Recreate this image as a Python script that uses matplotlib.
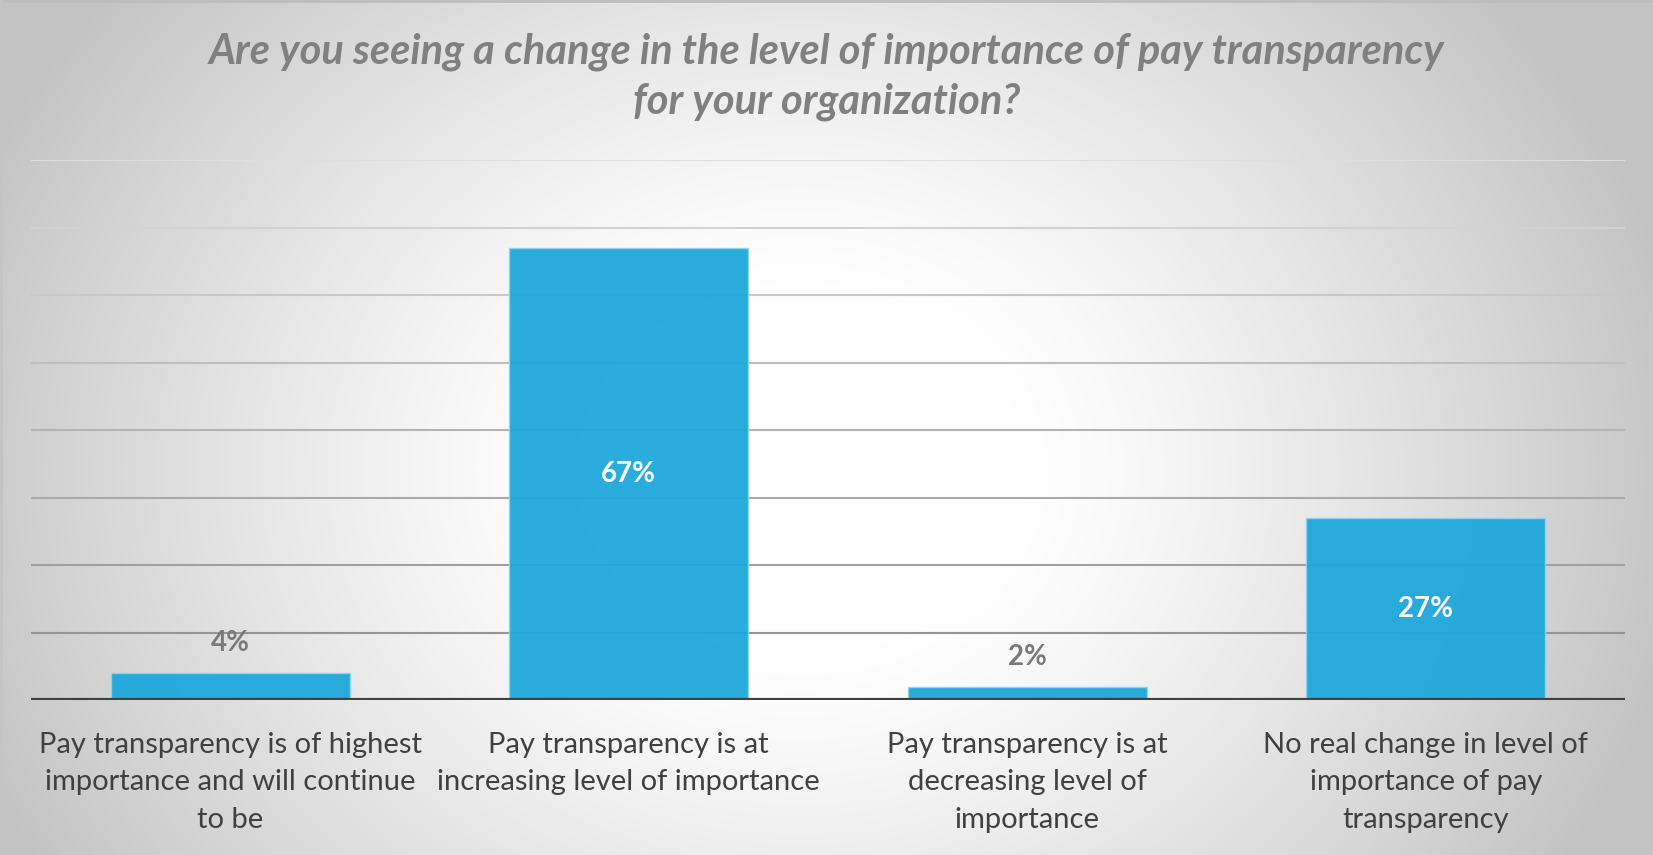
import numpy as np
import matplotlib
matplotlib.use("Agg")
import matplotlib.pyplot as plt

# survey answers and share of respondents (%)
categories = [
    "Pay transparency is of highest\nimportance and will continue\nto be",
    "Pay transparency is at\nincreasing level of importance",
    "Pay transparency is at\ndecreasing level of\nimportance",
    "No real change in level of\nimportance of pay\ntransparency",
]
shares = [4, 67, 2, 27]
grid_levels = [10, 20, 30, 40, 50, 60, 70, 80]
title = ("Are you seeing a change in the level of importance of pay transparency\n"
         "for your organization?")

W, H = 1653, 855
fig = plt.figure(figsize=(W / 100, H / 100), dpi=100)

# radial grey-to-white backdrop
bg = fig.add_axes([0, 0, 1, 1])
yy, xx = np.mgrid[0:H, 0:W]
r = np.sqrt(((xx - 800) / 900.0) ** 2 + ((yy - 470) / 750.0) ** 2)
t = np.clip((r - 0.25) / 0.75, 0, 1) ** 1.2
shade = (255 - 60 * t) / 255.0
bg.imshow(np.dstack([shade] * 3), extent=[0, W, H, 0], aspect="auto")
bg.plot([0, W], [1, 1], color="#bdbdbd", lw=2)
bg.plot([1, 1], [0, H], color="#c4c4c4", lw=2)
bg.set_xlim(0, W)
bg.set_ylim(H, 0)
bg.axis("off")

ax = fig.add_axes([31 / W, 1 - 700 / H, (1625 - 31) / W, (700 - 160) / H])
ax.patch.set_alpha(0)

# gridlines fade out towards the top
grid_colors = ["#959595", "#a0a0a0", "#aaaaaa", "#b4b4b4",
               "#bebebe", "#c8c8c8", "#d2d2d2", "#dedede"]
for lvl, c in zip(grid_levels, grid_colors):
    ax.axhline(lvl, color=c, lw=1.5, zorder=1)

x = np.arange(len(categories))
bars = ax.bar(x, shares, width=0.6, color="#1ea8da", alpha=0.95,
              edgecolor="#8fd4ee", linewidth=1, zorder=2)
ax.axhline(0, color="#404040", lw=3, zorder=3)

for xi, v in zip(x, shares):
    if v > 10:
        ax.text(xi, v / 2, f"{v}%", ha="center", va="center", color="white",
                fontsize=20, fontweight="bold", family="Lato", zorder=4)
    else:
        ax.text(xi, v + 4.4, f"{v}%", ha="center", va="center", color="#7a7a7a",
                fontsize=20, fontweight="bold", family="Lato", zorder=4)

ax.set_xlim(-0.5, len(categories) - 0.5)
ax.set_ylim(0, 80)
ax.set_xticks(x)
ax.set_xticklabels(categories, fontsize=21, family="Lato", color="#404040",
                   linespacing=1.55, va="top")
ax.tick_params(axis="x", length=0, pad=23)
ax.set_yticks([])
for s in ax.spines.values():
    s.set_visible(False)

fig.text(0.5, 1 - 77 / H, title, ha="center", va="center", fontsize=30,
         fontweight="bold", fontstyle="italic", family="Lato", color="#808080",
         linespacing=1.36)

fig.savefig("out.png", dpi=100)
